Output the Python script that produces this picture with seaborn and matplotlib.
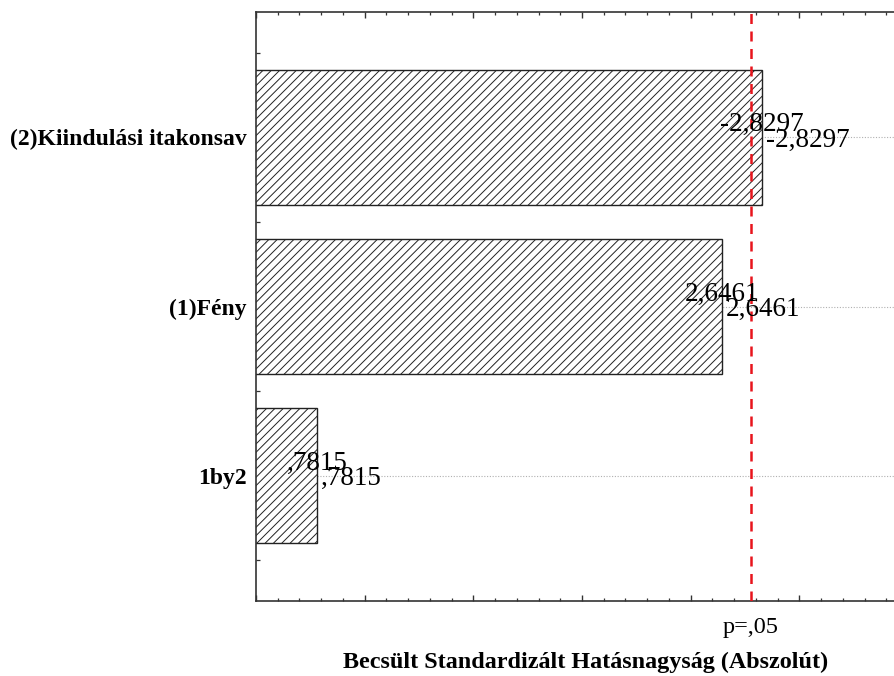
import numpy as np
import pandas as pd
import matplotlib
matplotlib.use("Agg")
import matplotlib.pyplot as plt
import matplotlib.transforms as mtransforms
from matplotlib.ticker import MultipleLocator, NullFormatter
import seaborn as sns

# Standardized effects (signed) and their names, in Pareto order
effect_names = ["(2)Kiindulási itakonsav", "(1)Fény", "1by2"]
effect_values = [-2.8297, 2.6461, 0.7815]
critical_t = 2.776          # t-value for p = .05
critical_label = "p=,05"
x_title = "Becsült Standardizált Hatásnagyság (Abszolút)"


def hu_format(v):
    s = f"{abs(v):.4f}".replace(".", ",")
    if s.startswith("0"):
        s = s[1:]
    return ("-" if v < 0 else "") + s


sns.set_theme(style="white")
plt.rcParams["font.family"] = ["Liberation Serif", "DejaVu Serif"]
plt.rcParams["hatch.linewidth"] = 0.7

df = pd.DataFrame({"effect": effect_names,
                   "abs_effect": np.abs(effect_values)})

fig = plt.figure(figsize=(8.95, 6.76), dpi=100)
ax = fig.add_axes([0.2860, 0.1109, 0.7285, 0.8713])

# dotted reference lines through the category centres
for i in range(len(effect_names)):
    ax.axhline(i, color="#b0b0b0", lw=0.8, ls=(0, (1, 1.5)), zorder=0)

sns.barplot(data=df, x="abs_effect", y="effect", orient="h",
            color="white", edgecolor="black", linewidth=1.0,
            width=0.8, ax=ax, zorder=2)
for p in ax.patches:
    p.set_hatch("////")
    p.set_facecolor("white")
    p.set_edgecolor("#222222")

ax.axvline(critical_t, color="#e8141c", lw=1.8, ls=(0, (4, 3)), zorder=3)

ax.set_xlim(0.5, 3.5)
ax.set_ylim(2.74, -0.74)

# value labels: one centred on the bar end, one just to its right
for i, v in enumerate(effect_values):
    a = abs(v)
    ax.annotate(hu_format(v), (a, i), xytext=(0, 9), textcoords="offset points",
                ha="center", va="center", fontsize=19.5, color="black", zorder=5)
    ax.annotate(hu_format(v), (a, i), xytext=(2.5, -2), textcoords="offset points",
                ha="left", va="center", fontsize=19.5, color="black", zorder=5)

# axis styling
for side in ["left", "bottom", "top"]:
    ax.spines[side].set_visible(True)
    ax.spines[side].set_color("#333333")
    ax.spines[side].set_linewidth(1.2)
ax.spines["right"].set_visible(False)

ax.xaxis.set_major_locator(MultipleLocator(0.5))
ax.xaxis.set_minor_locator(MultipleLocator(0.1))
ax.xaxis.set_major_formatter(NullFormatter())
ax.tick_params(axis="x", which="major", direction="in", length=4, width=1,
               top=True, bottom=True, color="#333333")
ax.tick_params(axis="x", which="minor", direction="in", length=2.5, width=0.9,
               top=True, bottom=True, color="#333333")

ax.yaxis.set_minor_locator(MultipleLocator(0.25))
ax.tick_params(axis="y", which="both", direction="in", length=3, width=0.9,
               left=True, color="#333333", pad=6.5)
for lbl in ax.get_yticklabels():
    lbl.set_fontweight("bold")
    lbl.set_fontsize(17)
    lbl.set_color("black")

ax.set_ylabel("")
ax.set_xlabel(x_title, fontsize=17.4, fontweight="bold", color="black")
ax.xaxis.label.set_va("center")
ax.xaxis.set_label_coords(0.505, -0.105)

trans = mtransforms.blended_transform_factory(ax.transData, ax.transAxes)
ax.text(critical_t, -0.0445, critical_label, transform=trans, ha="center",
        va="center", fontsize=17.5, color="black", clip_on=False)

fig.savefig("out.png", dpi=100)
